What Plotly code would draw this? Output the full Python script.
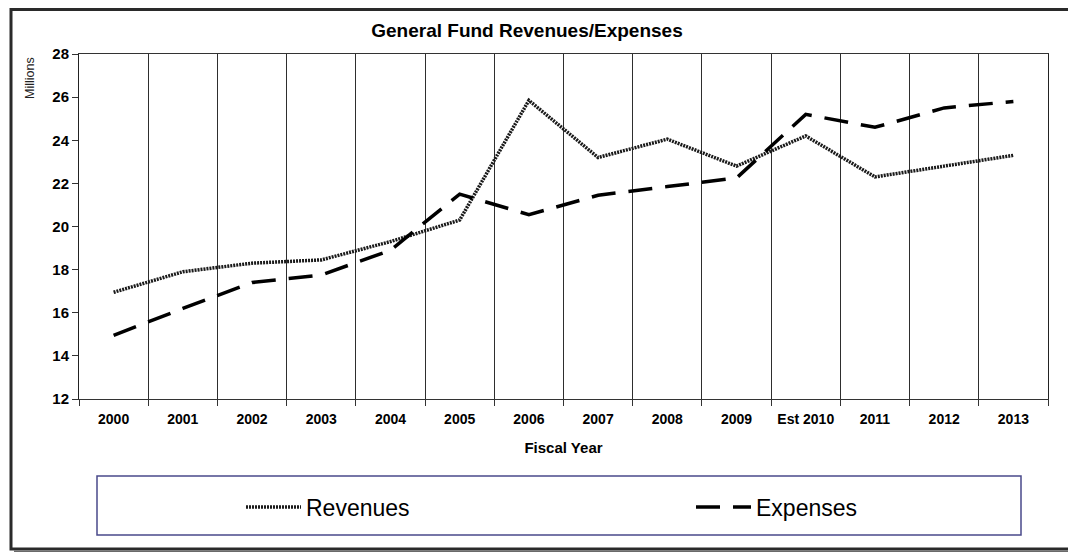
import plotly.graph_objects as go

# ---- data ----
years = ["2000", "2001", "2002", "2003", "2004", "2005", "2006", "2007",
         "2008", "2009", "Est 2010", "2011", "2012", "2013"]
revenues = [16.95, 17.9, 18.3, 18.45, 19.3, 20.3, 25.85, 23.2, 24.05, 22.8,
            24.2, 22.3, 22.8, 23.3]
expenses = [14.95, 16.2, 17.4, 17.75, 18.9, 21.5, 20.55, 21.45, 21.85, 22.25,
            25.2, 24.6, 25.5, 25.8]
y_ticks = [12, 14, 16, 18, 20, 22, 24, 26, 28]

# page offset of the figure (default body margin)
OFF = 8
W_PX, H_PX = 1076 - OFF, 552 - OFF
# plot area in screenshot coordinates
L, R, T, B = 79, 1048, 54, 399
PW, PH = R - L, B - T


def px(x):
    return (x - L) / PW


def py(y):
    return (B - y) / PH


def cx(x):
    return (x - OFF) / W_PX


def cy(y):
    return 1 - (y - OFF) / H_PX


FONT = "Liberation Sans, Arial, sans-serif"

fig = go.Figure()
fig.add_trace(go.Scatter(
    x=years, y=revenues, name="Revenues", mode="lines",
    line=dict(color="#1a1a1a", width=3.5, dash="2px,1px"),
))
fig.add_trace(go.Scatter(
    x=years, y=expenses, name="Expenses", mode="lines",
    line=dict(color="black", width=3.5, dash="24px,13px"),
))

shapes = [
    # outer chart border
    dict(type="rect", xref="paper", yref="paper",
         x0=px(11), x1=px(1073), y0=py(549), y1=py(9.5),
         line=dict(color="#2a2a2a", width=3), layer="below"),
    # shadow right & bottom
    dict(type="rect", xref="paper", yref="paper",
         x0=px(1074.5), x1=px(1078), y0=py(554), y1=py(14),
         fillcolor="#6a6a6a", line=dict(width=0), layer="below"),
    dict(type="rect", xref="paper", yref="paper",
         x0=px(14), x1=px(1078), y0=py(554), y1=py(550.5),
         fillcolor="#6a6a6a", line=dict(width=0), layer="below"),
    # legend box
    dict(type="rect", xref="paper", yref="paper",
         x0=px(97), x1=px(1021), y0=py(535), y1=py(476),
         line=dict(color="#4a4a8a", width=1.5), layer="below"),
]

fig.update_layout(
    width=W_PX, height=H_PX,
    margin=dict(l=L - OFF, r=W_PX - (R - OFF), t=T - OFF, b=H_PX - (B - OFF)),
    paper_bgcolor="white", plot_bgcolor="white",
    font=dict(family=FONT, color="black"),
    title=dict(text="<b>General Fund Revenues/Expenses</b>",
               x=cx(527), xanchor="center", xref="container",
               y=cy(30), yanchor="middle", yref="container",
               font=dict(size=19, family=FONT, color="black")),
    shapes=shapes,
    showlegend=True,
    legend=dict(orientation="h", xref="container", yref="container",
                x=cx(241), xanchor="left", y=cy(507), yanchor="middle",
                font=dict(size=23, family=FONT, color="black"),
                bgcolor="rgba(0,0,0,0)", borderwidth=0,
                itemwidth=55, entrywidthmode="pixels", entrywidth=380,
                traceorder="normal"),
    annotations=[
        dict(text="Millions", xref="paper", yref="paper",
             x=px(30), y=py(78), xanchor="center", yanchor="middle",
             textangle=-90, showarrow=False,
             font=dict(size=12.5, family=FONT, color="#222")),
    ],
)

fig.update_xaxes(
    type="category", categoryorder="array", categoryarray=years,
    range=[-0.5, len(years) - 0.5],
    tickson="boundaries", ticks="outside", ticklen=6, tickcolor="#333",
    showgrid=True, gridcolor="#2e2e2e", gridwidth=1,
    showline=True, linecolor="#333", linewidth=1, mirror=True,
    tickfont=dict(size=14, family=FONT, color="black", weight="bold"),
    ticklabelstandoff=7,
    title=dict(text="<b>Fiscal Year</b>", standoff=16,
               font=dict(size=15, family=FONT, color="black")),
    zeroline=False,
)
fig.update_yaxes(
    range=[12, 28], tickvals=y_ticks, ticks="outside", ticklen=6,
    tickcolor="#333", showgrid=False, zeroline=False,
    showline=True, linecolor="#222", linewidth=1, mirror=True,
    tickfont=dict(size=15, family=FONT, color="black", weight="bold"),
)

fig.write_html("out.html")
